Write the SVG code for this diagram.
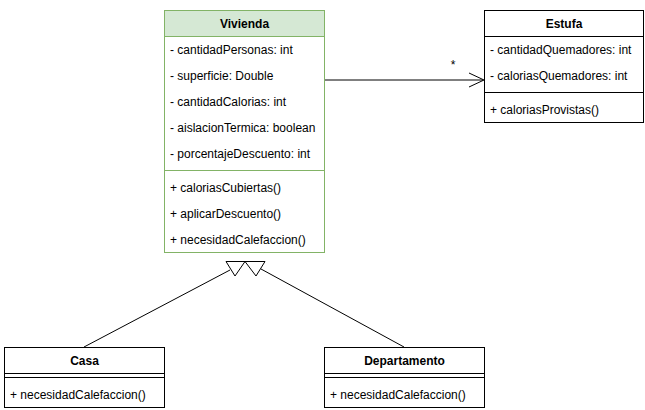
<svg xmlns="http://www.w3.org/2000/svg" width="645" height="410" viewBox="0 0 645 410">
<style>
text{font-family:"Liberation Sans",Arial,Helvetica,sans-serif;font-size:12px;fill:#000}
.t{font-weight:bold;text-anchor:middle}
.box{fill:#fff;stroke:#000;stroke-width:1}
.gbox{fill:#fff;stroke:#82b366;stroke-width:1}
.ghead{fill:#d5e8d4;stroke:#82b366;stroke-width:1}
.sep{stroke:#000;stroke-width:1}
.gsep{stroke:#82b366;stroke-width:1}
.edge{fill:none;stroke:#000;stroke-width:1}
.tri{fill:#fff;stroke:#000;stroke-width:1;stroke-linejoin:miter}
</style>
<rect width="645" height="410" fill="#fff"/>
<g id="connectors">
<line class="edge" x1="324" y1="80" x2="483" y2="80"/>
<polyline class="edge" points="469,73 484,80 469,87"/>
<text x="453" y="69" text-anchor="middle">*</text>
<line class="edge" x1="84" y1="347" x2="230" y2="270"/>
<line class="edge" x1="404" y1="347" x2="261" y2="269"/>
<polygon class="tri" points="226,261.5 245,261.5 235,276"/>
<polygon class="tri" points="245,261.5 265,261.5 256,276"/>
</g>
<g id="Vivienda">
<rect class="gbox" x="164.5" y="10.5" width="160" height="242"/>
<rect class="ghead" x="164.5" y="10.5" width="160" height="26"/>
<line class="gsep" x1="164.5" y1="170.5" x2="324.5" y2="170.5"/>
<text class="t" x="244.5" y="28">Vivienda</text>
<text x="170" y="54">- cantidadPersonas: int</text>
<text x="170" y="80">- superficie: Double</text>
<text x="170" y="106">- cantidadCalorias: int</text>
<text x="170" y="132">- aislacionTermica: boolean</text>
<text x="170" y="158">- porcentajeDescuento: int</text>
<text x="170" y="192">+ caloriasCubiertas()</text>
<text x="170" y="218">+ aplicarDescuento()</text>
<text x="170" y="244">+ necesidadCalefaccion()</text>
</g>
<g id="Estufa">
<rect class="box" x="484.5" y="10.5" width="159" height="112"/>
<line class="sep" x1="484.5" y1="36.5" x2="643.5" y2="36.5"/>
<line class="sep" x1="484.5" y1="92.5" x2="643.5" y2="92.5"/>
<text class="t" x="564" y="28">Estufa</text>
<text x="490" y="54">- cantidadQuemadores: int</text>
<text x="490" y="80">- caloriasQuemadores: int</text>
<text x="490" y="114">+ caloriasProvistas()</text>
</g>
<g id="Casa">
<rect class="box" x="4.5" y="347.5" width="160" height="60"/>
<line class="sep" x1="4.5" y1="373.5" x2="164.5" y2="373.5"/>
<line class="sep" x1="4.5" y1="377.5" x2="164.5" y2="377.5"/>
<text class="t" x="84.5" y="365">Casa</text>
<text x="10" y="399">+ necesidadCalefaccion()</text>
</g>
<g id="Departamento">
<rect class="box" x="324.5" y="347.5" width="160" height="60"/>
<line class="sep" x1="324.5" y1="373.5" x2="484.5" y2="373.5"/>
<line class="sep" x1="324.5" y1="377.5" x2="484.5" y2="377.5"/>
<text class="t" x="404.5" y="365">Departamento</text>
<text x="330" y="399">+ necesidadCalefaccion()</text>
</g>
</svg>
